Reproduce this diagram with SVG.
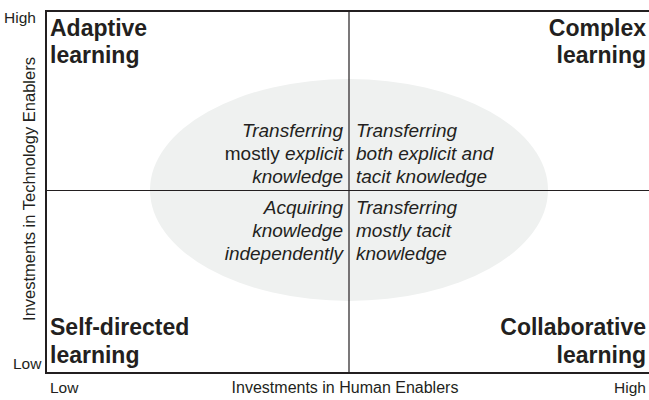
<svg xmlns="http://www.w3.org/2000/svg" width="649" height="400" viewBox="0 0 649 400">
<style>
.t{font-family:"Liberation Sans",Arial,sans-serif;fill:#231f20}
.b{font-size:23px;font-weight:bold}
.ax{font-size:15.5px}
.i{font-size:19px;font-style:italic}
.r{text-anchor:end}
.n{font-style:normal}
</style>
<rect width="649" height="400" fill="#fff"/>
<ellipse id="zone" cx="349" cy="190" rx="199" ry="111" fill="#eff1f0"/>
<g id="connectors" fill="none" stroke="#231f20">
<path d="M649,11 H46 V373 H649" stroke-width="2"/>
<line x1="349" y1="11" x2="349" y2="373" stroke-width="1.2"/>
<line x1="46" y1="190.5" x2="649" y2="190.5" stroke-width="1.2"/>
</g>
<g id="adaptive"><text class="t b" x="50" y="36">Adaptive</text><text class="t b" x="50" y="63">learning</text></g>
<g id="complex"><text class="t b r" x="646" y="36">Complex</text><text class="t b r" x="646" y="63">learning</text></g>
<g id="selfdirected"><text class="t b" x="50" y="335">Self-directed</text><text class="t b" x="50" y="363">learning</text></g>
<g id="collaborative"><text class="t b r" x="646" y="335">Collaborative</text><text class="t b r" x="646" y="363">learning</text></g>
<g id="axes">
<text class="t ax" x="4" y="23">High</text>
<text class="t ax" x="13" y="369">Low</text>
<text class="t ax" x="50" y="393">Low</text>
<text class="t ax r" x="646" y="393">High</text>
<text class="t ax" x="345" y="393" text-anchor="middle" style="font-size:16px">Investments in Human Enablers</text>
<text class="t ax" transform="translate(35,189) rotate(-90)" text-anchor="middle" style="font-size:16.5px">Investments in Technology Enablers</text>
</g>
<g id="q-topleft">
<text class="t i r" x="343" y="137">Transferring</text>
<text class="t i r" x="343" y="160"><tspan class="n">mostly </tspan>explicit</text>
<text class="t i r" x="343" y="183">knowledge</text>
</g>
<g id="q-topright">
<text class="t i" x="356" y="137">Transferring</text>
<text class="t i" x="356" y="160">both explicit and</text>
<text class="t i" x="356" y="183">tacit knowledge</text>
</g>
<g id="q-bottomleft">
<text class="t i r" x="343" y="214">Acquiring</text>
<text class="t i r" x="343" y="237">knowledge</text>
<text class="t i r" x="343" y="260">independently</text>
</g>
<g id="q-bottomright">
<text class="t i" x="356" y="214">Transferring</text>
<text class="t i" x="356" y="237">mostly tacit</text>
<text class="t i" x="356" y="260">knowledge</text>
</g>
</svg>
